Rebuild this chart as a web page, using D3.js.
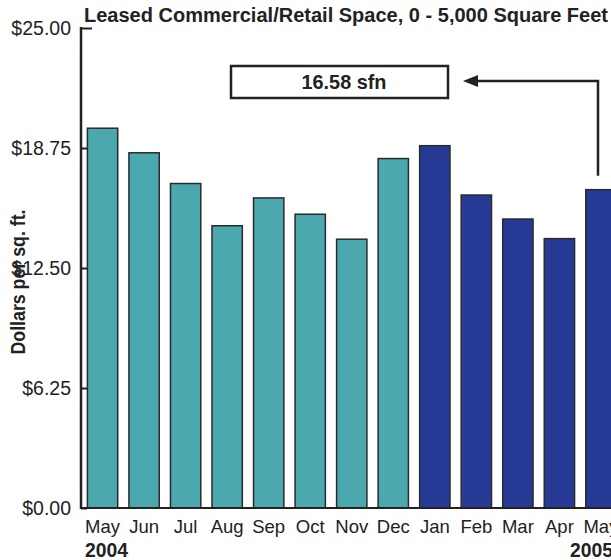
<!DOCTYPE html>
<html>
<head>
<meta charset="utf-8">
<script src="https://cdn.jsdelivr.net/npm/d3@7"></script>
<style>
  body { margin: 0; background: #fff; }
  text { font-family: "Liberation Sans", Arial, sans-serif; }
</style>
</head>
<body>
<div id="chart"></div>
<script>
// months shown on the x axis
const months = ["May", "Jun", "Jul", "Aug", "Sep", "Oct", "Nov", "Dec", "Jan", "Feb", "Mar", "Apr", "May"];
// year of each bar (2004 teal, 2005 blue)
const years = [2004, 2004, 2004, 2004, 2004, 2004, 2004, 2004, 2005, 2005, 2005, 2005, 2005];
// dollars per sq. ft.
const values = [19.78, 18.5, 16.9, 14.7, 16.15, 15.3, 14.0, 18.2, 18.87, 16.3, 15.05, 14.03, 16.58];
const yTicks = [0, 6.25, 12.5, 18.75, 25];
const yearLabels = ["2004", "2005"];
const note = "16.58 sfn";

let width = 611,
    height = 560;

const svg = d3.select("#chart")
  .append("svg")
  .attr("width", width)
  .attr("height", height);

const mLeft = 81, mBottom = 508, mTop = 28;

const x = d3.scaleBand()
  .domain(d3.range(months.length))
  .range([mLeft + 1, mLeft + 1 + 41.5 * months.length])
  .paddingInner(0.27)
  .paddingOuter(0.13);

const y = d3.scaleLinear()
  .domain([0, 25])
  .range([mBottom, mTop]);

const color = d3.scaleOrdinal()
  .domain([2004, 2005])
  .range(["#4aa8ae", "#263a96"]);

// bars
svg.selectAll(".bar")
  .data(values)
  .enter().append("rect")
  .attr("class", "bar")
  .attr("x", (d, i) => x(i))
  .attr("y", d => y(d))
  .attr("width", x.bandwidth())
  .attr("height", d => mBottom - y(d))
  .attr("fill", (d, i) => color(years[i]))
  .attr("stroke", "#2a2a2a")
  .attr("stroke-width", 1.5);

// baseline
svg.append("line")
  .attr("x1", mLeft).attr("x2", width)
  .attr("y1", mBottom).attr("y2", mBottom)
  .attr("stroke", "#222").attr("stroke-width", 2);

// y axis (ticks point inward)
const yAxis = d3.axisRight(y)
  .tickValues(yTicks)
  .tickSize(6)
  .tickFormat("");

const ya = svg.append("g")
  .attr("transform", "translate(" + mLeft + ",0)")
  .call(yAxis);
ya.select(".domain").remove();
ya.selectAll(".tick line").attr("stroke", "#222").attr("stroke-width", 2);
ya.selectAll(".tick")
  .filter(d => d === 25)
  .select("line").attr("x2", 11);

svg.append("line")
  .attr("x1", mLeft).attr("x2", mLeft)
  .attr("y1", mTop - 1).attr("y2", mBottom + 1)
  .attr("stroke", "#222").attr("stroke-width", 2.5);

svg.selectAll(".ylab")
  .data(yTicks)
  .enter().append("text")
  .attr("class", "ylab")
  .attr("x", 71)
  .attr("y", d => y(d) + 7)
  .attr("text-anchor", "end")
  .attr("font-size", 19.5)
  .attr("fill", "#222")
  .text(d => "$" + d3.format(".2f")(d));

// month labels
svg.selectAll(".mlab")
  .data(months)
  .enter().append("text")
  .attr("class", "mlab")
  .attr("x", (d, i) => x(i) + x.bandwidth() / 2)
  .attr("y", 533)
  .attr("text-anchor", "middle")
  .attr("font-size", 18.5)
  .attr("fill", "#222")
  .text(d => d);

// years
svg.append("text")
  .attr("x", 85).attr("y", 557)
  .attr("font-size", 21).attr("font-weight", "bold").attr("fill", "#222")
  .attr("textLength", 43).attr("lengthAdjust", "spacingAndGlyphs")
  .text(yearLabels[0]);
svg.append("text")
  .attr("x", 570).attr("y", 557)
  .attr("font-size", 21).attr("font-weight", "bold").attr("fill", "#222")
  .attr("textLength", 43).attr("lengthAdjust", "spacingAndGlyphs")
  .text(yearLabels[1]);

// title
svg.append("text")
  .attr("x", 84).attr("y", 22)
  .attr("font-size", 20).attr("font-weight", "bold").attr("fill", "#222")
  .attr("textLength", 524).attr("lengthAdjust", "spacingAndGlyphs")
  .text("Leased Commercial/Retail Space, 0 - 5,000 Square Feet");

// y axis title
svg.append("text")
  .attr("transform", "translate(25,282) rotate(-90)")
  .attr("text-anchor", "middle")
  .attr("font-size", 21).attr("font-weight", "bold").attr("fill", "#222")
  .attr("textLength", 145).attr("lengthAdjust", "spacingAndGlyphs")
  .text("Dollars per sq. ft.");

// annotation box
svg.append("rect")
  .attr("x", 231).attr("y", 66)
  .attr("width", 217).attr("height", 32)
  .attr("fill", "#fff").attr("stroke", "#222").attr("stroke-width", 2.5);
svg.append("text")
  .attr("x", 344).attr("y", 89)
  .attr("text-anchor", "middle")
  .attr("font-size", 21).attr("font-weight", "bold").attr("fill", "#222")
  .attr("textLength", 85).attr("lengthAdjust", "spacingAndGlyphs")
  .text(note);

// arrow from last bar to the box
const last = months.length - 1;
const ax = 598;
svg.append("path")
  .attr("d", "M" + ax + "," + (y(values[last]) - 14) + "V81H474")
  .attr("fill", "none").attr("stroke", "#222").attr("stroke-width", 2.5);
svg.append("path")
  .attr("d", "M463,81L478,75L478,87Z")
  .attr("fill", "#222");
</script>
</body>
</html>
